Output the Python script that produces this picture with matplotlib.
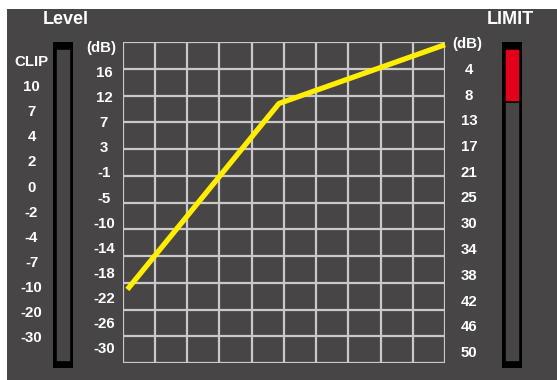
import matplotlib
matplotlib.use("Agg")
import matplotlib.pyplot as plt
from matplotlib.patches import Rectangle
from matplotlib import font_manager as fm

names = {f.name for f in fm.fontManager.ttflist}
narrow = "Liberation Sans Narrow" if "Liberation Sans Narrow" in names else "Liberation Sans"

# input level labels (left of grid), output labels (right of grid)
in_labels = ["(dB)", "16", "12", "7", "3", "-1", "-5", "-10", "-14", "-18", "-22", "-26", "-30"]
out_labels = ["(dB)", "4", "8", "13", "17", "21", "25", "30", "34", "38", "42", "46", "50"]
level_labels = ["CLIP", "10", "7", "4", "2", "0", "-2", "-4", "-7", "-10", "-20", "-30"]

# curve in grid units (10 columns x 12 rows)
curve_x = [0.15, 4.85, 10.0]
curve_y = [2.75, 9.7, 11.9]

# limit meter fill (fraction of meter height, from the top)
limit_fill = 0.165

W, H = 557, 380
BG = "#474545"
GRID = "#c9c9c9"
lab_size = 11.5 if narrow.endswith("Narrow") else 10.8

fig = plt.figure(figsize=(W / 100, H / 100), dpi=100)
fig.patch.set_facecolor("white")

def px_axes(x0, y0, x1, y1):
    # axes from pixel box (top-left origin)
    return fig.add_axes([x0 / W, 1 - y1 / H, (x1 - x0) / W, (y1 - y0) / H])

# dark panel
bg = px_axes(7, 9, W, H)
bg.set_facecolor(BG)
bg.set_xticks([]); bg.set_yticks([])
for s in bg.spines.values():
    s.set_visible(False)

def ftext(x, y, s, **kw):
    fig.text(x / W, 1 - y / H, s, color="white", ha="center", va="center",
             family=narrow, fontweight="bold", **kw)

# titles
fig.text(66 / W, 1 - 20 / H, "Level", color="white", ha="center", va="center",
         family="Liberation Sans", fontweight="bold", fontsize=13)
fig.text(510 / W, 1 - 20 / H, "LIMIT", color="white", ha="center", va="center",
         family="Liberation Sans", fontweight="bold", fontsize=13)

# meters
def meter(x0, x1, fill=0.0):
    ax = px_axes(x0, 41.5, x1, 368)
    ax.set_xlim(0, 1); ax.set_ylim(0, 1)
    ax.axis("off")
    ax.add_patch(Rectangle((0, 0), 1, 1, color="black"))
    ix0, ix1 = 0.2, 0.8
    iy0, iy1 = 8 / 326.5, 1 - 8 / 326.5
    ax.add_patch(Rectangle((ix0, iy0), ix1 - ix0, iy1 - iy0, color=BG))
    if fill > 0:
        h = (iy1 - iy0) * fill
        ax.add_patch(Rectangle((ix0, iy1 - h), ix1 - ix0, h, color="#e3001b"))
        ax.plot([ix0, ix1], [iy1 - h - 0.003] * 2, color="black", lw=1.2)

meter(53, 73)
meter(502, 522, limit_fill)

# level scale labels
for i, s in enumerate(level_labels):
    ftext(31.5, 62 + i * 25.1, s, fontsize=lab_size)

# grid
ax = px_axes(122.5, 42, 445, 363)
ax.set_facecolor(BG)
ax.set_xlim(0, 10); ax.set_ylim(0, 12)
for v in range(11):
    ax.axvline(v, color=GRID, lw=1.6, zorder=1)
for h in range(13):
    ax.axhline(h, color=GRID, lw=1.6, zorder=1)
for s in ax.spines.values():
    s.set_visible(False)
ax.set_xticks([]); ax.set_yticks([])
ax.plot(curve_x, curve_y, color="#ffee00", lw=3.8, solid_capstyle="butt", zorder=3, clip_on=False)

# input / output labels
for i, s in enumerate(in_labels):
    ftext(104 if i else 101, 48 + i * 25.1, s, fontsize=lab_size)
for i, s in enumerate(out_labels):
    ftext(469 if i else 467, 44 + i * 25.75, s, fontsize=lab_size)

fig.savefig("out.png", dpi=100, facecolor=fig.get_facecolor())
